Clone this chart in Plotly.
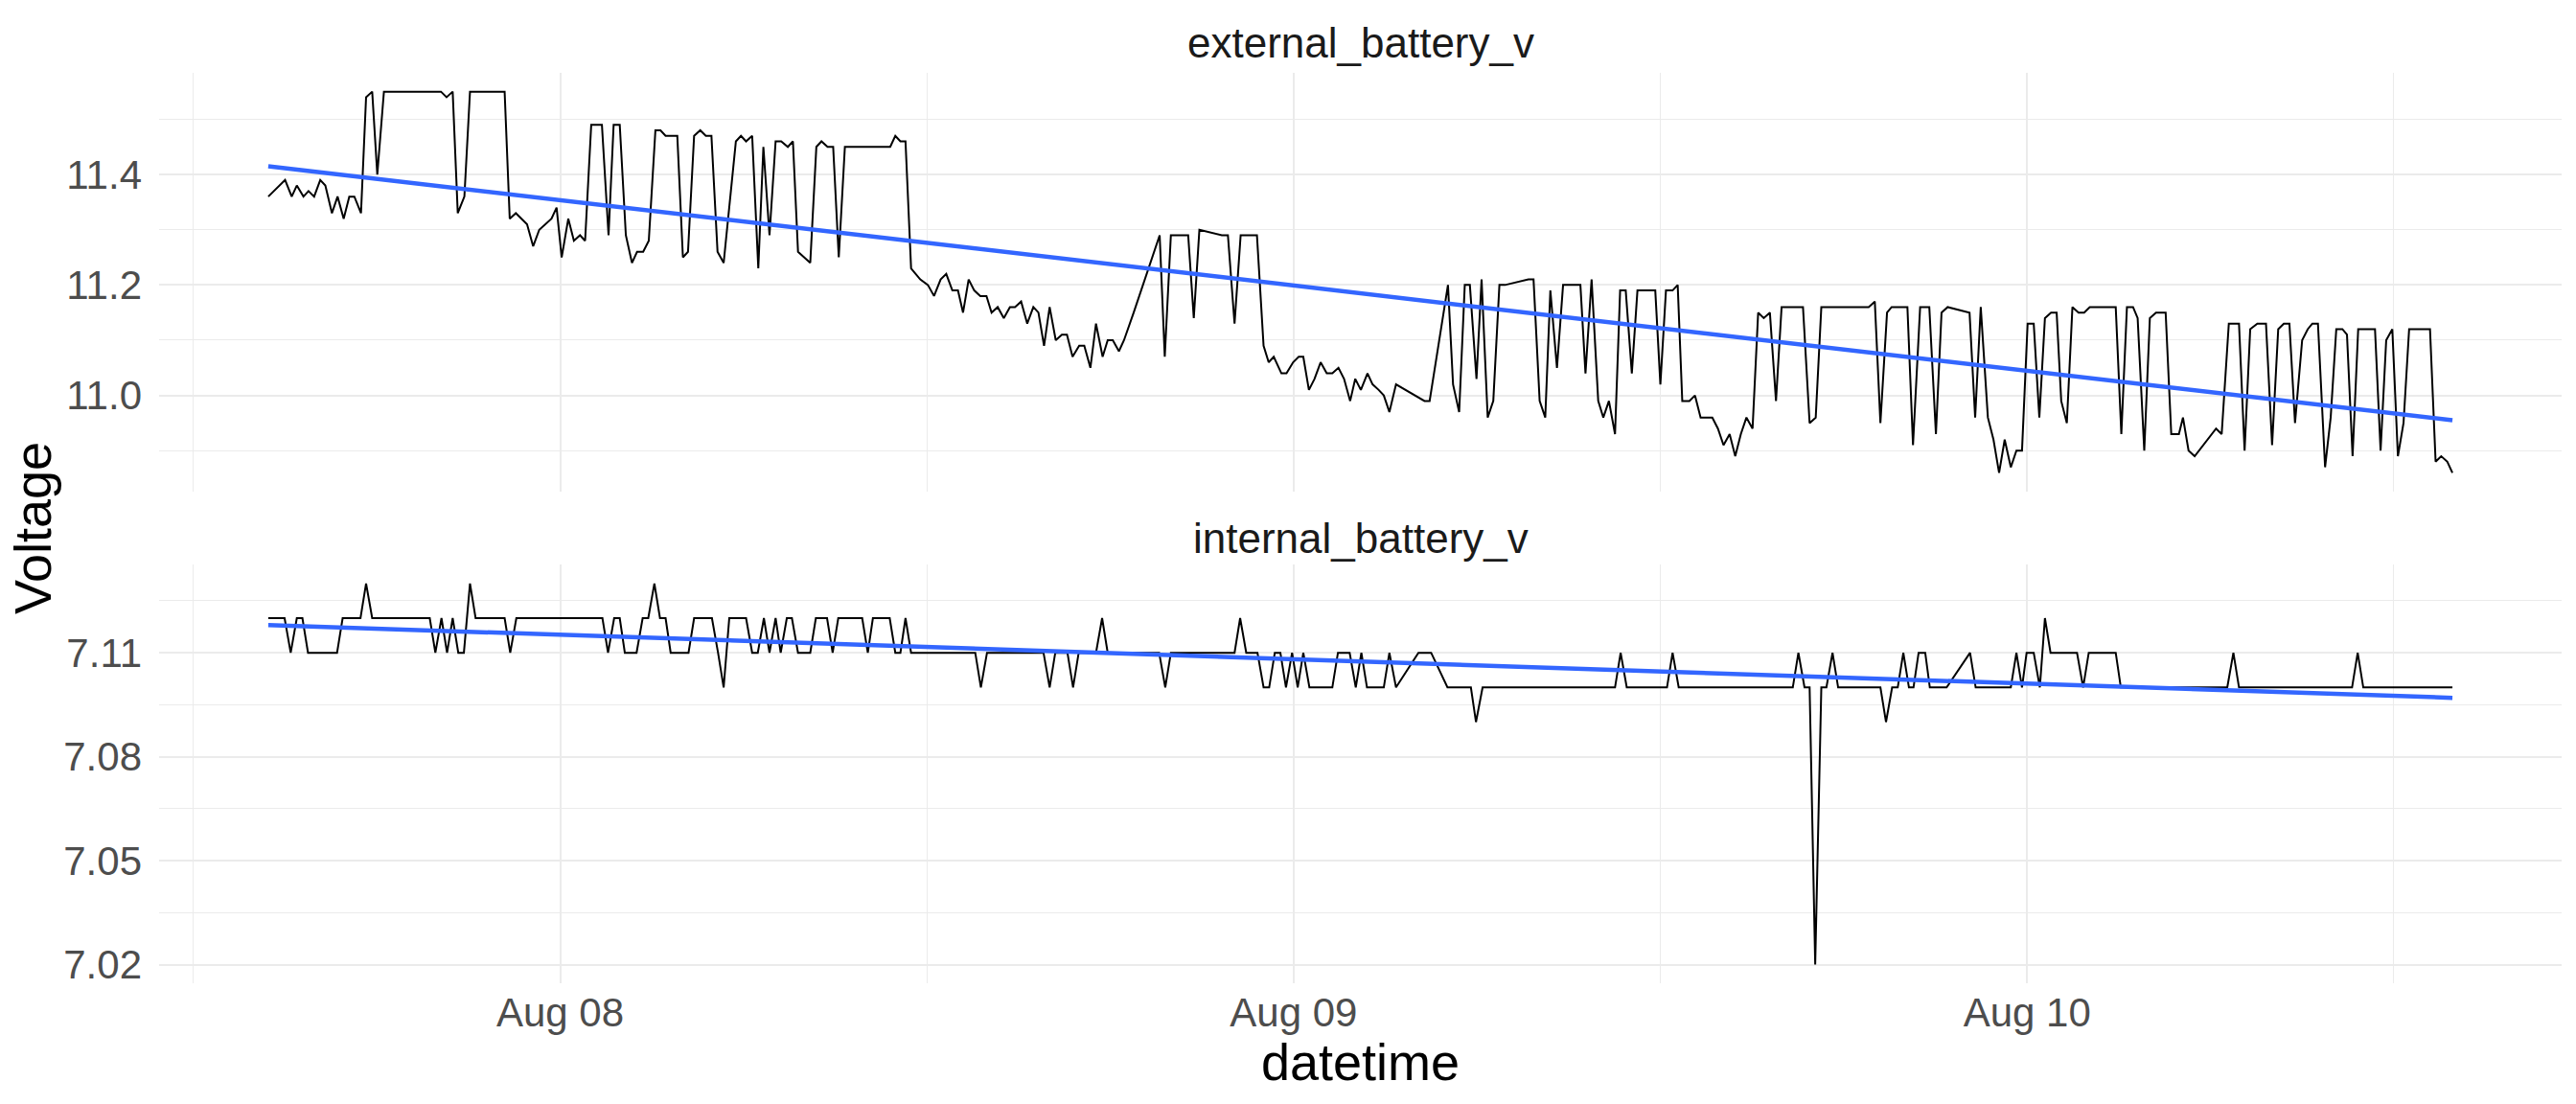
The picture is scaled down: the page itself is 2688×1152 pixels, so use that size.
import pandas as pd
import plotly.graph_objects as go

# readings start here; times below are minutes after this moment
start = pd.Timestamp('2023-08-07 14:27')

ext_minutes = [
    0, 33, 46, 56, 69, 79, 90, 102, 112, 125, 136, 148, 159, 169, 182, 192, 204, 214, 227, 339,
    350, 362, 372, 385, 396, 464, 474, 486, 508, 520, 532, 556, 566, 576, 589, 600, 612, 622, 634, 655,
    668, 678, 690, 702, 714, 724, 736, 747, 760, 770, 780, 803, 814, 824, 836, 848, 859, 870, 882, 894,
    918, 928, 938, 950, 962, 972, 984, 996, 1007, 1020, 1030, 1040, 1064, 1076, 1086, 1098, 1109, 1120, 1132, 1221,
    1231, 1241, 1251, 1262, 1280, 1295, 1307, 1320, 1331, 1343, 1354, 1364, 1375, 1386, 1398, 1410, 1420, 1432, 1444, 1456,
    1466, 1478, 1490, 1502, 1512, 1523, 1534, 1546, 1558, 1568, 1579, 1592, 1602, 1614, 1625, 1638, 1648, 1658, 1670, 1680,
    1699, 1714, 1729, 1750, 1760, 1772, 1806, 1817, 1828, 1872, 1884, 1897, 1909, 1941, 1954, 1964, 1974, 1989, 1999, 2012,
    2023, 2032, 2043, 2054, 2066, 2078, 2089, 2101, 2112, 2124, 2134, 2145, 2158, 2168, 2180, 2190, 2201, 2214, 2270, 2280,
    2316, 2326, 2338, 2349, 2359, 2372, 2382, 2394, 2405, 2417, 2428, 2474, 2484, 2496, 2507, 2517, 2530, 2542, 2576, 2586,
    2598, 2611, 2621, 2632, 2644, 2654, 2665, 2677, 2688, 2723, 2733, 2744, 2757, 2767, 2776, 2790, 2801, 2812, 2835, 2846,
    2857, 2869, 2880, 2891, 2902, 2914, 2925, 2936, 2948, 2960, 2971, 3013, 3026, 3038, 3049, 3142, 3154, 3165, 3178, 3187,
    3218, 3229, 3243, 3261, 3274, 3285, 3297, 3340, 3351, 3362, 3376, 3387, 3398, 3409, 3421, 3432, 3443, 3454, 3466, 3477,
    3488, 3500, 3511, 3520, 3531, 3542, 3554, 3565, 3576, 3627, 3638, 3649, 3661, 3670, 3683, 3694, 3706, 3725, 3736, 3751,
    3759, 3770, 3782, 3824, 3835, 3849, 3869, 3880, 3891, 3905, 3922, 3934, 3946, 3957, 3968, 3979, 3993, 4004, 4013, 4024,
    4038, 4049, 4060, 4072, 4081, 4092, 4103, 4136, 4147, 4158, 4170, 4181, 4192, 4203, 4244, 4255, 4266, 4278, 4288,
]
ext_volts = [
    11.36, 11.39, 11.36, 11.38, 11.36, 11.37, 11.36, 11.39, 11.38, 11.33, 11.36, 11.32, 11.36, 11.36, 11.33, 11.54, 11.55, 11.40, 11.55, 11.55,
    11.54, 11.55, 11.33, 11.36, 11.55, 11.55, 11.32, 11.33, 11.31, 11.27, 11.30, 11.32, 11.34, 11.25, 11.32, 11.28, 11.29, 11.28, 11.49, 11.49,
    11.29, 11.49, 11.49, 11.29, 11.24, 11.26, 11.26, 11.28, 11.48, 11.48, 11.47, 11.47, 11.25, 11.26, 11.47, 11.48, 11.47, 11.47, 11.26, 11.24,
    11.46, 11.47, 11.46, 11.47, 11.23, 11.45, 11.29, 11.46, 11.46, 11.45, 11.46, 11.26, 11.24, 11.45, 11.46, 11.45, 11.45, 11.25, 11.45, 11.45,
    11.47, 11.46, 11.46, 11.23, 11.21, 11.20, 11.18, 11.21, 11.22, 11.19, 11.19, 11.15, 11.21, 11.19, 11.18, 11.18, 11.15, 11.16, 11.14, 11.16,
    11.16, 11.17, 11.13, 11.16, 11.15, 11.09, 11.16, 11.10, 11.11, 11.11, 11.07, 11.09, 11.09, 11.05, 11.13, 11.07, 11.10, 11.10, 11.08, 11.10,
    11.15, 11.19, 11.23, 11.29, 11.07, 11.29, 11.29, 11.14, 11.30, 11.29, 11.29, 11.13, 11.29, 11.29, 11.09, 11.06, 11.07, 11.04, 11.04, 11.06,
    11.07, 11.07, 11.01, 11.03, 11.06, 11.04, 11.04, 11.05, 11.03, 10.99, 11.03, 11.01, 11.04, 11.02, 11.01, 11.00, 10.97, 11.02, 10.99, 10.99,
    11.20, 11.02, 10.97, 11.20, 11.20, 11.03, 11.21, 10.96, 10.99, 11.20, 11.20, 11.21, 11.21, 10.99, 10.96, 11.19, 11.05, 11.20, 11.20, 11.04,
    11.21, 10.99, 10.96, 10.99, 10.93, 11.19, 11.19, 11.04, 11.19, 11.19, 11.02, 11.19, 11.19, 11.20, 10.99, 10.99, 11.00, 10.96, 10.96, 10.94,
    10.91, 10.93, 10.89, 10.93, 10.96, 10.94, 11.15, 11.14, 11.15, 10.99, 11.16, 11.16, 10.95, 10.96, 11.16, 11.16, 11.17, 10.95, 11.15, 11.16,
    11.16, 10.91, 11.16, 11.16, 10.93, 11.15, 11.16, 11.15, 10.96, 11.16, 10.96, 10.92, 10.86, 10.92, 10.87, 10.90, 10.90, 11.13, 11.13, 10.96,
    11.14, 11.15, 11.15, 10.99, 10.95, 11.16, 11.15, 11.15, 11.16, 11.16, 10.93, 11.16, 11.16, 11.14, 10.90, 11.14, 11.15, 11.15, 10.93, 10.93,
    10.96, 10.90, 10.89, 10.94, 10.93, 11.13, 11.13, 10.90, 11.12, 11.13, 11.13, 10.91, 11.12, 11.13, 11.13, 10.95, 11.10, 11.12, 11.13, 11.13,
    10.87, 10.96, 11.12, 11.12, 11.11, 10.89, 11.12, 11.12, 10.90, 11.10, 11.12, 10.89, 10.95, 11.12, 11.12, 10.88, 10.89, 10.88, 10.86,
]

int_minutes = [
    0, 32, 44, 56, 67, 78, 135, 146, 181, 192, 204, 317, 328, 340, 351, 362, 373, 384, 396, 407,
    464, 475, 487, 656, 667, 679, 690, 700, 723, 735, 746, 758, 769, 780, 790, 825, 836, 871, 883, 894,
    905, 938, 950, 961, 973, 984, 996, 1006, 1018, 1028, 1040, 1064, 1075, 1097, 1108, 1119, 1166, 1177, 1187, 1220,
    1231, 1241, 1251, 1262, 1388, 1399, 1411, 1522, 1534, 1545, 1569, 1580, 1591, 1625, 1637, 1648, 1749, 1761, 1772, 1897,
    1908, 1920, 1942, 1954, 1965, 1976, 1987, 1998, 2010, 2021, 2032, 2044, 2089, 2100, 2123, 2135, 2146, 2157, 2190, 2201,
    2214, 2258, 2283, 2315, 2361, 2371, 2384, 2644, 2655, 2667, 2746, 2757, 2769, 2993, 3004, 3016, 3026, 3037, 3049, 3059,
    3071, 3082, 3165, 3176, 3188, 3199, 3210, 3221, 3230, 3240, 3253, 3262, 3295, 3341, 3352, 3421, 3432, 3443, 3452, 3466,
    3478, 3488, 3499, 3551, 3563, 3574, 3627, 3637, 3846, 3858, 3869, 4091, 4102, 4113, 4288,
]
int_volts = [
    7.12, 7.12, 7.11, 7.12, 7.12, 7.11, 7.11, 7.12, 7.12, 7.13, 7.12, 7.12, 7.11, 7.12, 7.11, 7.12, 7.11, 7.11, 7.13, 7.12,
    7.12, 7.11, 7.12, 7.12, 7.11, 7.12, 7.12, 7.11, 7.11, 7.12, 7.12, 7.13, 7.12, 7.12, 7.11, 7.11, 7.12, 7.12, 7.11, 7.10,
    7.12, 7.12, 7.11, 7.11, 7.12, 7.11, 7.12, 7.11, 7.12, 7.12, 7.11, 7.11, 7.12, 7.12, 7.11, 7.12, 7.12, 7.11, 7.12, 7.12,
    7.11, 7.11, 7.12, 7.11, 7.11, 7.10, 7.11, 7.11, 7.10, 7.11, 7.11, 7.10, 7.11, 7.11, 7.12, 7.11, 7.11, 7.10, 7.11, 7.11,
    7.12, 7.11, 7.11, 7.10, 7.10, 7.11, 7.11, 7.10, 7.11, 7.10, 7.11, 7.10, 7.10, 7.11, 7.11, 7.10, 7.11, 7.10, 7.10, 7.11,
    7.10, 7.11, 7.11, 7.10, 7.10, 7.09, 7.10, 7.10, 7.11, 7.10, 7.10, 7.11, 7.10, 7.10, 7.11, 7.10, 7.10, 7.02, 7.10, 7.10,
    7.11, 7.10, 7.10, 7.09, 7.10, 7.10, 7.11, 7.10, 7.10, 7.11, 7.11, 7.10, 7.10, 7.11, 7.10, 7.10, 7.11, 7.10, 7.11, 7.11,
    7.10, 7.12, 7.11, 7.11, 7.10, 7.11, 7.11, 7.10, 7.10, 7.11, 7.10, 7.10, 7.11, 7.10, 7.10,
]

# lm trend (geom_smooth) read at first and last reading
ext_trend = [11.415, 10.955]
int_trend = [7.118, 7.097]

ext_time = start + pd.to_timedelta(ext_minutes, unit='min')
int_time = start + pd.to_timedelta(int_minutes, unit='min')
trend_time = [ext_time.min(), ext_time.max()]

# ggplot style 5% expansion
span = ext_time.max() - ext_time.min()
x_range = [ext_time.min() - span * 0.05, ext_time.max() + span * 0.05]

def expand(vals):
    lo, hi = min(vals), max(vals)
    pad = (hi - lo) * 0.05
    return [lo - pad, hi + pad]

FONT = 'Liberation Sans, Arial, sans-serif'
GRID = '#EBEBEB'
tick_font = dict(family=FONT, size=42, color='#4D4D4D')

fig = go.Figure()
fig.add_trace(go.Scatter(x=ext_time, y=ext_volts, mode='lines', line=dict(color='black', width=2),
                         xaxis='x', yaxis='y', hoverinfo='x+y'))
fig.add_trace(go.Scatter(x=trend_time, y=ext_trend, mode='lines', line=dict(color='#3366FF', width=4.5),
                         xaxis='x', yaxis='y'))
fig.add_trace(go.Scatter(x=int_time, y=int_volts, mode='lines', line=dict(color='black', width=2),
                         xaxis='x2', yaxis='y2', hoverinfo='x+y'))
fig.add_trace(go.Scatter(x=trend_time, y=int_trend, mode='lines', line=dict(color='#3366FF', width=4.5),
                         xaxis='x2', yaxis='y2'))

xdom = [166 / 2688, 2673 / 2688]
x_common = dict(
    domain=xdom, type='date', range=x_range, tickformat='%b %d',
    tick0='2023-08-08', dtick=86400000,
    showgrid=True, gridcolor=GRID, gridwidth=2,
    minor=dict(showgrid=True, gridcolor=GRID, gridwidth=1, tick0='2023-08-07 12:00', dtick=43200000),
    zeroline=False, showline=False, ticks='',
)
fig.update_layout(
    width=2688, height=1152,
    margin=dict(l=0, r=0, t=0, b=0),
    plot_bgcolor='#FFFFFF', paper_bgcolor='#FFFFFF',
    showlegend=False,
    font=dict(family=FONT, color='#1A1A1A'),
    xaxis=dict(x_common, anchor='y', showticklabels=False),
    xaxis2=dict(x_common, anchor='y2', matches='x', showticklabels=True,
                tickfont=tick_font, ticklabelstandoff=2),
    yaxis=dict(domain=[1 - 515 / 1152, 1 - 76 / 1152], range=expand(ext_volts),
               tick0=11.0, dtick=0.2, tickformat='.1f', tickfont=tick_font,
               showgrid=True, gridcolor=GRID, gridwidth=2,
               minor=dict(showgrid=True, gridcolor=GRID, gridwidth=1, tick0=10.9, dtick=0.1),
               zeroline=False, showline=False, ticks='', ticklabelstandoff=17),
    yaxis2=dict(domain=[1 - 1030 / 1152, 1 - 591 / 1152], range=expand(int_volts),
                tick0=7.02, dtick=0.03, tickformat='.2f', tickfont=tick_font,
                showgrid=True, gridcolor=GRID, gridwidth=2,
                minor=dict(showgrid=True, gridcolor=GRID, gridwidth=1, tick0=7.035, dtick=0.03),
                zeroline=False, showline=False, ticks='', ticklabelstandoff=17),
)

xmid = (xdom[0] + xdom[1]) / 2
strip_font = dict(family=FONT, size=44, color='#1A1A1A')
title_font = dict(family=FONT, size=54, color='black')
fig.add_annotation(text='external_battery_v', x=xmid, y=1 - 45 / 1152, xref='paper', yref='paper',
                   showarrow=False, yanchor='middle', font=strip_font)
fig.add_annotation(text='internal_battery_v', x=xmid, y=1 - 563 / 1152, xref='paper', yref='paper',
                   showarrow=False, yanchor='middle', font=strip_font)
fig.add_annotation(text='datetime', x=xmid, y=1 - 1112 / 1152, xref='paper', yref='paper',
                   showarrow=False, yanchor='middle', font=title_font)
fig.add_annotation(text='Voltage', x=34 / 2688, y=1 - 553 / 1152, xref='paper', yref='paper',
                   showarrow=False, textangle=-90, xanchor='center', yanchor='middle',
                   font=title_font)

# drop the default body margin so the figure sits at the window corner
fig.write_html("out.html", config={'displayModeBar': False},
               post_script="document.body.style.margin='0px';")
